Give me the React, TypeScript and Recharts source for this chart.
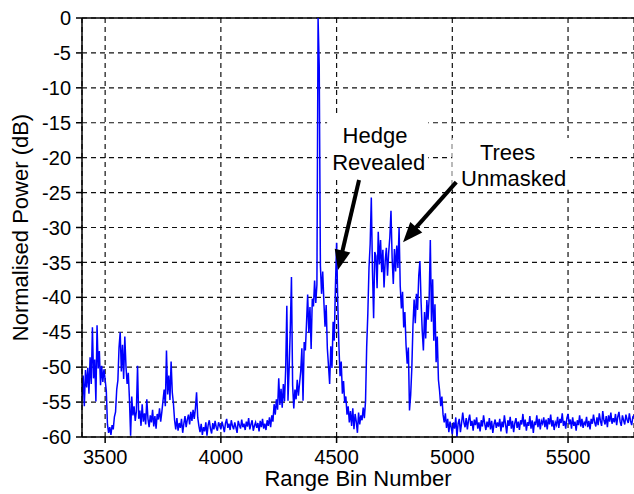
import React from 'react';
import {
  LineChart,
  Line,
  XAxis,
  YAxis,
  CartesianGrid,
  ReferenceLine,
  ReferenceArea,
  ReferenceDot,
  Label,
} from 'recharts';

// Range bins sampled every 5 bins starting at 3400
const BIN_START = 3400;
const BIN_STEP = 5;

// Normalised power (dB), 100 bins (20 samples) per row
const power3400to3995 = [
  -54.8, -51.2, -55.6, -50.4, -52.9, -50.1, -53.8, -48.6, -52.4, -44.3, -51.6, -48.9, -54.9, -44.0, -50.2, -47.7, -52.6, -49.8, -52.1, -50.3,
  -51.8, -53.4, -58.2, -59.4, -58.6, -59.7, -58.3, -58.9, -57.1, -56.4, -53.2, -51.9, -47.2, -45.0, -50.6, -46.8, -51.7, -45.6, -49.9, -52.4,
  -50.8, -54.6, -59.8, -54.2, -56.9, -55.6, -57.7, -56.3, -49.8, -57.4, -56.2, -58.4, -55.3, -57.8, -56.6, -58.2, -54.6, -57.4, -58.6, -56.9,
  -57.9, -56.1, -58.5, -57.0, -58.8, -56.7, -57.5, -55.9, -57.8, -56.4, -54.8, -53.2, -55.6, -47.6, -53.9, -51.2, -54.7, -49.2, -53.6, -55.2,
  -57.6, -58.9, -57.3, -59.1, -58.0, -58.7, -57.4, -59.4, -58.1, -57.0, -58.6, -57.5, -56.8, -58.2, -56.4, -57.7, -56.1, -57.4, -55.9, -53.6,
  -57.2, -58.4, -59.3, -58.1, -59.7, -58.6, -59.2, -57.9, -59.8, -58.3, -57.6, -58.8, -59.5, -58.0, -58.9, -57.7, -58.6, -59.1, -57.9, -58.4,
];

const power4000to4595 = [
  -58.9, -57.8, -58.5, -59.3, -58.0, -57.4, -58.7, -58.1, -59.0, -57.6, -58.4, -58.9, -57.9, -58.6, -59.4, -57.7, -58.3, -58.8, -57.5, -58.6,
  -58.1, -59.0, -57.8, -58.5, -57.3, -58.9, -58.2, -57.6, -59.1, -58.4, -57.9, -58.7, -58.0, -59.2, -57.7, -58.6, -57.4, -58.8, -58.1, -59.0,
  -57.6, -58.4, -57.2, -58.6, -56.9, -57.8, -55.3, -56.8, -54.6, -56.1, -51.6, -55.4, -53.1, -55.8, -52.4, -54.9, -50.3, -41.2, -54.8, -50.1,
  -44.5, -37.1, -52.6, -55.9, -53.2, -54.6, -51.8, -54.1, -52.3, -50.6, -47.3, -54.8, -46.4, -47.6, -43.8, -39.6, -45.1, -41.4, -47.4, -40.2,
  -41.3, -37.6, -40.8, -38.2, 0.0, -7.0, -35.4, -39.5, -36.3, -40.6, -44.2, -41.1, -47.3, -49.8, -52.4, -47.0, -50.1, -43.5, -46.2, -38.4,
  -32.2, -40.7, -46.9, -51.3, -49.2, -53.8, -52.0, -55.1, -54.2, -56.8, -55.6, -57.9, -56.3, -58.4, -55.9, -58.9, -56.7, -57.8, -59.4, -56.5,
];

const power4600to5195 = [
  -58.2, -56.9, -57.6, -55.8, -57.3, -54.9, -47.1, -42.3, -35.8, -32.4, -25.7, -36.2, -43.0, -33.5, -34.1, -38.7, -30.6, -35.3, -31.8, -36.4,
  -33.2, -38.6, -34.8, -32.9, -36.9, -33.6, -31.4, -27.6, -34.4, -38.1, -33.1, -36.3, -32.6, -35.8, -30.0, -38.4, -41.6, -39.2, -44.3, -42.1,
  -46.8, -49.5, -47.2, -56.2, -54.0, -50.2, -44.0, -40.3, -43.7, -39.5, -41.8, -36.9, -34.8, -40.6, -44.8, -47.6, -42.1, -45.9, -40.4, -43.2,
  -40.1, -31.8, -43.5, -37.4, -46.2, -41.0, -49.3, -45.6, -51.8, -53.4, -55.6, -54.2, -56.8, -57.9, -56.6, -58.7, -57.4, -59.3, -57.8, -58.6,
  -59.6, -57.9, -58.8, -57.2, -60.0, -58.1, -57.4, -59.3, -58.0, -56.5, -57.9, -58.6, -57.3, -58.9, -57.6, -56.8, -58.4, -57.7, -59.1, -57.5,
  -58.3, -57.2, -58.8, -57.9, -59.2, -57.6, -58.5, -56.9, -58.1, -59.0, -57.8, -58.6, -57.3, -58.9, -57.7, -59.4, -58.2, -57.5, -58.7, -57.9,
];

const power5200to5790 = [
  -58.5, -57.4, -59.2, -57.8, -58.6, -56.9, -58.2, -59.5, -57.6, -58.4, -57.1, -58.8, -57.7, -59.3, -58.0, -57.3, -58.7, -57.8, -59.0, -57.6,
  -58.2, -56.7, -58.5, -57.5, -59.1, -57.9, -58.4, -57.0, -58.8, -57.6, -59.4, -57.8, -58.3, -56.9, -58.6, -57.4, -58.9, -57.7, -58.1, -57.2,
  -58.6, -57.5, -58.9, -57.3, -58.2, -56.8, -58.5, -57.6, -59.0, -57.9, -58.3, -57.1, -58.7, -57.4, -58.0, -56.6, -58.4, -57.7, -58.8, -57.3,
  -56.7, -58.2, -57.5, -58.8, -57.2, -58.4, -57.8, -59.1, -57.6, -58.3, -56.9, -58.5, -57.4, -58.7, -57.9, -58.2, -57.1, -58.6, -57.7, -58.9,
  -57.4, -58.1, -56.8, -57.9, -58.5, -57.2, -58.3, -56.6, -57.7, -58.4, -56.3, -57.6, -58.2, -57.0, -58.6, -56.9, -57.8, -56.5, -58.1, -57.3,
  -57.9, -56.7, -58.3, -57.1, -56.4, -57.8, -58.4, -56.9, -57.6, -58.2, -56.8, -57.5, -58.0, -56.6, -57.7, -58.3, -57.1, -56.9, -57.6,
];

const powerDb = [...power3400to3995, ...power4000to4595, ...power4600to5195, ...power5200to5790];
const data = powerDb.map((p, i) => ({ bin: BIN_START + i * BIN_STEP, power: p }));

const X_DOMAIN: [number, number] = [3400, 5785];
const xTicks = [3500, 4000, 4500, 5000, 5500];
const yTicks = [0, -5, -10, -15, -20, -25, -30, -35, -40, -45, -50, -55, -60];

// Annotations (data coordinates)
const noteBoxes = [
  { x1: 4459, x2: 4896, y1: -13.9, y2: -22.9 },
  { x1: 5000, x2: 5509, y1: -17.2, y2: -24.6 },
];
const noteTexts = [
  { bin: 4666, db: -17.94, text: 'Hedge' },
  { bin: 4682, db: -21.77, text: 'Revealed' },
  { bin: 5239, db: -20.33, text: 'Trees' },
  { bin: 5265, db: -24.06, text: 'Unmasked' },
];
const noteArrows = [
  { from: { x: 4597, y: -23.2 }, to: { x: 4506, y: -36.1 } },
  { from: { x: 5017, y: -23.5 }, to: { x: 4787, y: -32.1 } },
];

const FONT = '"Liberation Sans", Arial, Helvetica, sans-serif';

const ArrowShape = (props: any) => {
  const { x1, y1, x2, y2 } = props;
  if ([x1, y1, x2, y2].some((v) => typeof v !== 'number' || isNaN(v))) return null;
  const dx = x2 - x1;
  const dy = y2 - y1;
  const len = Math.hypot(dx, dy) || 1;
  const ux = dx / len;
  const uy = dy / len;
  const headLen = 20;
  const headW = 8;
  const bx = x2 - ux * headLen;
  const by = y2 - uy * headLen;
  return (
    <g>
      <line x1={x1} y1={y1} x2={bx + ux * 2} y2={by + uy * 2} stroke="#000" strokeWidth={4} />
      <polygon
        points={`${x2},${y2} ${bx - uy * headW},${by + ux * headW} ${bx + uy * headW},${by - ux * headW}`}
        fill="#000"
      />
    </g>
  );
};

const makeTextShape = (text: string) => (props: any) => {
  const { cx, cy } = props;
  return (
    <text x={cx} y={cy} textAnchor="middle" fontFamily={FONT} fontSize={22} fill="#000">
      {text}
    </text>
  );
};

const YTitle = (props: any) => {
  const vb = props.viewBox || { x: 0, y: 18, width: 82, height: 419 };
  const x = vb.x + 28;
  const y = vb.y + vb.height / 2;
  return (
    <text
      x={x}
      y={y}
      transform={`rotate(-90 ${x} ${y})`}
      textAnchor="middle"
      fontFamily={FONT}
      fontSize={22}
      fill="#000"
    >
      Normalised Power (dB)
    </text>
  );
};

const XTitle = (props: any) => {
  const vb = props.viewBox || { x: 82, y: 437, width: 552, height: 57 };
  return (
    <text
      x={vb.x + vb.width / 2}
      y={vb.y + 49}
      textAnchor="middle"
      fontFamily={FONT}
      fontSize={22}
      fill="#000"
    >
      Range Bin Number
    </text>
  );
};

export default function App() {
  return (
    <div style={{ position: 'absolute', left: 0, top: 0, width: 634, height: 494, background: '#fff' }}>
      <LineChart
        width={634}
        height={494}
        data={data}
        margin={{ top: 18, right: 0, bottom: 0, left: 0 }}
      >
        <CartesianGrid stroke="#111" strokeDasharray="5 4" strokeWidth={1.2} />
        <XAxis
          dataKey="bin"
          type="number"
          domain={X_DOMAIN}
          allowDataOverflow
          ticks={xTicks}
          interval={0}
          height={57}
          tickSize={6}
          tickMargin={7}
          stroke="#000"
          strokeWidth={1.5}
          tick={{ fill: '#000', fontSize: 20, fontFamily: FONT }}
        >
          <Label content={<XTitle />} />
        </XAxis>
        <YAxis
          type="number"
          domain={[-60, 0]}
          ticks={yTicks}
          interval={0}
          width={82}
          tickSize={6}
          tickMargin={5}
          stroke="#000"
          strokeWidth={1.5}
          tick={{ fill: '#000', fontSize: 20, fontFamily: FONT }}
        >
          <Label content={<YTitle />} />
        </YAxis>
        <ReferenceLine y={0} stroke="#000" strokeWidth={1.5} />
        {noteBoxes.map((b, i) => (
          <ReferenceArea
            key={`box${i}`}
            x1={b.x1}
            x2={b.x2}
            y1={b.y1}
            y2={b.y2}
            fill="#fff"
            fillOpacity={1}
            stroke="none"
          />
        ))}
        <Line
          type="linear"
          dataKey="power"
          stroke="#0000ff"
          strokeWidth={1.5}
          dot={false}
          isAnimationActive={false}
        />
        {noteArrows.map((a, i) => (
          <ReferenceLine key={`arrow${i}`} segment={[a.from, a.to]} shape={ArrowShape} />
        ))}
        {noteTexts.map((t, i) => (
          <ReferenceDot
            key={`txt${i}`}
            x={t.bin}
            y={t.db}
            r={0}
            shape={makeTextShape(t.text)}
          />
        ))}
      </LineChart>
    </div>
  );
}
